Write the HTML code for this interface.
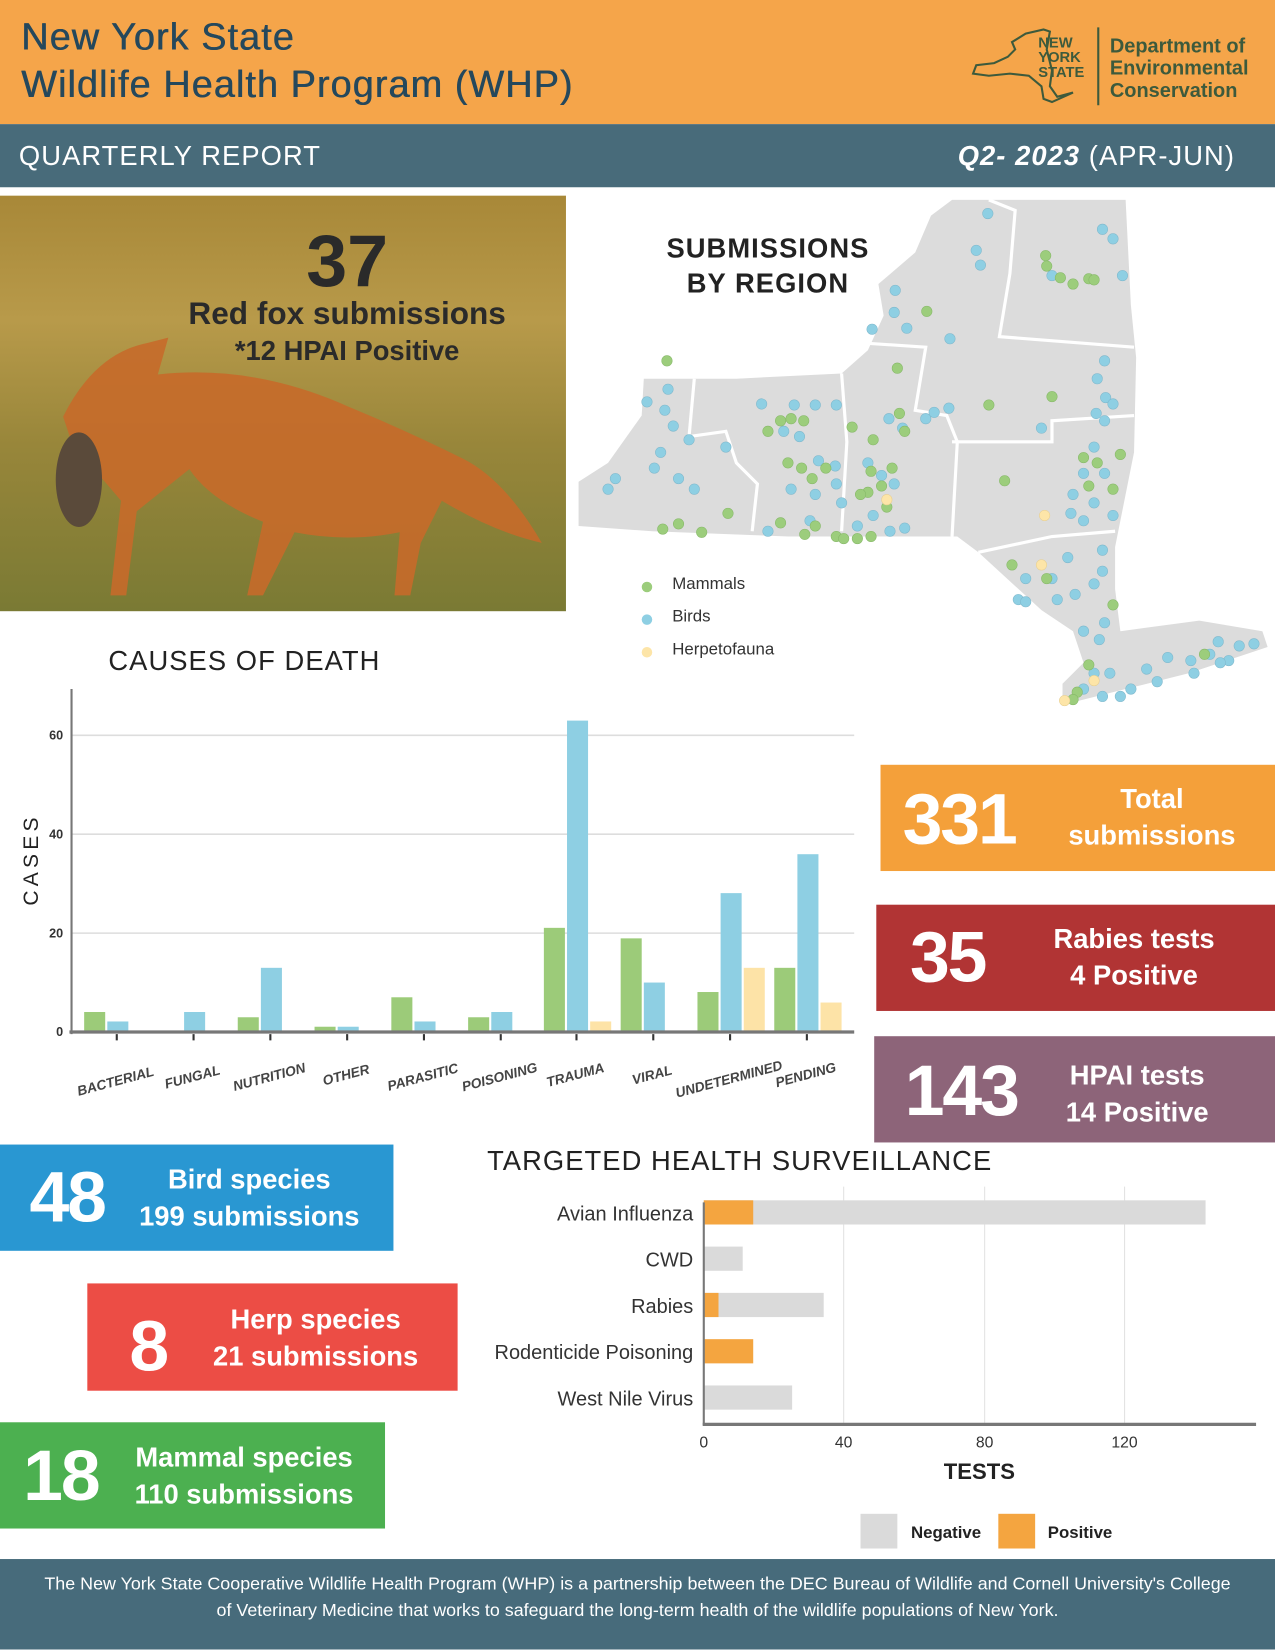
<!DOCTYPE html>
<html><head><meta charset="utf-8">
<style>
html,body{margin:0;padding:0;width:1275px;height:1650px;overflow:hidden;background:#fff}
#w{position:absolute;left:0;top:0;width:1212px;height:1568px;transform:scale(1.05198);transform-origin:0 0;font-family:"Liberation Sans",sans-serif}
.a{position:absolute}
.big{position:absolute;font-size:68px;line-height:70px;font-weight:bold;color:#fff;letter-spacing:-2px}
.lbl{position:absolute;text-align:center;font-size:26px;line-height:35px;font-weight:bold;color:#fff}
</style></head><body><div id="w">
<div class="a" style="left:0;top:0;width:1212px;height:118px;background:#f5a54a"></div>
<div class="a" style="left:20px;top:12px;font-size:36px;line-height:45px;color:#25485c;letter-spacing:1px;text-shadow:0.5px 0 0 #25485c">New York State<br>Wildlife Health Program (WHP)</div>
<svg class="a" style="left:920px;top:22px" width="280" height="80" viewBox="0 0 280 80">
<path d="M5 48 L8 40 L25 38 L38 32 L45 25 L42 18 L55 10 L72 6 L78 8 L75 25 L80 45 L78 60 L85 70 L100 66 L80 75 L72 72 L70 60 L58 50 L40 48 L20 50 Z" fill="none" stroke="#3d5a3c" stroke-width="2"/>
<text x="67" y="23" font-family="Liberation Sans" font-weight="bold" font-size="14" fill="#3d5a3c">NEW</text>
<text x="67" y="37" font-family="Liberation Sans" font-weight="bold" font-size="14" fill="#3d5a3c">YORK</text>
<text x="67" y="51" font-family="Liberation Sans" font-weight="bold" font-size="14" fill="#3d5a3c">STATE</text>
<line x1="124" y1="4" x2="124" y2="78" stroke="#3d5a3c" stroke-width="2"/>
<text x="135" y="28" font-family="Liberation Sans" font-weight="bold" font-size="19" fill="#3d5a3c">Department of</text>
<text x="135" y="49" font-family="Liberation Sans" font-weight="bold" font-size="19" fill="#3d5a3c">Environmental</text>
<text x="135" y="70" font-family="Liberation Sans" font-weight="bold" font-size="19" fill="#3d5a3c">Conservation</text>
</svg>
<div class="a" style="left:0;top:118px;width:1212px;height:60px;background:#486b7a"></div>
<div class="a" style="left:18px;top:133px;font-size:26px;color:#fff;letter-spacing:1px">QUARTERLY REPORT</div>
<div class="a" style="right:38px;top:133px;font-size:26px;color:#fff;letter-spacing:1px"><i style="font-weight:bold">Q2- 2023</i> (APR-JUN)</div>

<div class="a" style="left:0;top:186px;width:538px;height:395px;background:linear-gradient(180deg,#a88838 0%,#b89a4a 30%,#98863a 60%,#7a7a34 100%)"></div>
<svg class="a" style="left:0;top:186px" width="538" height="395">
<path d="M60 210 Q90 150 140 140 L160 135 L150 170 Q240 160 330 200 Q390 225 440 250 Q480 270 515 330 Q470 320 420 290 L400 330 L390 380 L375 380 L380 320 Q330 330 280 320 L250 380 L235 380 L250 310 Q200 290 180 260 L130 300 L120 380 L105 380 L115 290 Q90 260 70 240 Z" fill="#c66a2a" opacity="0.9"/>
<ellipse cx="75" cy="270" rx="22" ry="45" fill="#5a4a3a"/>
</svg>
<div class="a" style="left:180px;top:212px;width:300px;text-align:center;font-size:70px;line-height:72px;font-weight:bold;color:#2a2a2a">37</div>
<div class="a" style="left:150px;top:282px;width:360px;text-align:center;font-size:30px;font-weight:bold;color:#2a2a2a">Red fox submissions</div>
<div class="a" style="left:150px;top:318px;width:360px;text-align:center;font-size:26px;font-weight:bold;color:#2a2a2a">*12 HPAI Positive</div>

<svg class="a" style="left:0;top:0" width="1212" height="700">
<path d="M550 458 L578 440 L610 395 L612 360 L700 360 L800 355 L825 333 L840 300 L835 270 L870 240 L885 205 L905 190 L1070 190 L1075 290 L1080 340 L1078 430 L1070 470 L1060 520 L1060 560 L1065 600 L1140 590 L1200 600 L1205 615 L1130 640 L1070 655 L1010 670 L1010 650 L1030 630 L1020 600 L990 580 L930 525 L910 510 L850 510 L750 510 L620 505 L550 500 Z" fill="#dcdcdc"/>
<g stroke="#fff" stroke-width="3" fill="none">
<path d="M660 360 L655 415 L690 410 L700 440 L720 460 L715 505"/>
<path d="M800 355 L805 420 L800 505"/>
<path d="M805 325 L880 330 L870 390 L900 395 L910 420 L905 510"/>
<path d="M940 190 L965 200 L960 260 L950 320 L1078 330"/>
<path d="M905 420 L1000 420 L1000 400 L1078 395"/>
<path d="M930 525 L1000 510 L1060 505"/>
</g>
<g fill="#8ecfe3" stroke="#7fb8cc" stroke-width="0.5">
<circle cx="939" cy="203" r="5"/><circle cx="928" cy="238" r="5"/><circle cx="932" cy="252" r="5"/><circle cx="1048" cy="218" r="5"/><circle cx="1058" cy="227" r="5"/><circle cx="1000" cy="262" r="5"/><circle cx="1067" cy="262" r="5"/><circle cx="851" cy="276" r="5"/><circle cx="850" cy="297" r="5"/><circle cx="829" cy="313" r="5"/><circle cx="862" cy="312" r="5"/><circle cx="903" cy="322" r="5"/><circle cx="1050" cy="343" r="5"/><circle cx="1043" cy="360" r="5"/><circle cx="1051" cy="378" r="5"/><circle cx="1058" cy="384" r="5"/><circle cx="1042" cy="393" r="5"/><circle cx="1050" cy="400" r="5"/><circle cx="990" cy="407" r="5"/><circle cx="635" cy="370" r="5"/><circle cx="615" cy="382" r="5"/><circle cx="632" cy="390" r="5"/><circle cx="640" cy="405" r="5"/><circle cx="655" cy="418" r="5"/><circle cx="628" cy="430" r="5"/><circle cx="622" cy="445" r="5"/><circle cx="645" cy="455" r="5"/><circle cx="660" cy="465" r="5"/><circle cx="585" cy="455" r="5"/><circle cx="578" cy="465" r="5"/><circle cx="690" cy="425" r="5"/><circle cx="724" cy="384" r="5"/><circle cx="755" cy="385" r="5"/><circle cx="775" cy="385" r="5"/><circle cx="795" cy="385" r="5"/><circle cx="745" cy="410" r="5"/><circle cx="760" cy="415" r="5"/><circle cx="778" cy="438" r="5"/><circle cx="794" cy="443" r="5"/><circle cx="752" cy="465" r="5"/><circle cx="775" cy="470" r="5"/><circle cx="800" cy="478" r="5"/><circle cx="815" cy="500" r="5"/><circle cx="830" cy="490" r="5"/><circle cx="845" cy="398" r="5"/><circle cx="858" cy="407" r="5"/><circle cx="880" cy="398" r="5"/><circle cx="888" cy="392" r="5"/><circle cx="902" cy="388" r="5"/><circle cx="825" cy="440" r="5"/><circle cx="838" cy="452" r="5"/><circle cx="850" cy="460" r="5"/><circle cx="846" cy="505" r="5"/><circle cx="860" cy="502" r="5"/><circle cx="1040" cy="425" r="5"/><circle cx="1030" cy="450" r="5"/><circle cx="1050" cy="450" r="5"/><circle cx="1020" cy="470" r="5"/><circle cx="1040" cy="478" r="5"/><circle cx="1018" cy="488" r="5"/><circle cx="1030" cy="495" r="5"/><circle cx="1058" cy="490" r="5"/><circle cx="1048" cy="523" r="5"/><circle cx="1015" cy="530" r="5"/><circle cx="1000" cy="550" r="5"/><circle cx="1048" cy="543" r="5"/><circle cx="1040" cy="555" r="5"/><circle cx="1022" cy="565" r="5"/><circle cx="1005" cy="570" r="5"/><circle cx="975" cy="550" r="5"/><circle cx="968" cy="570" r="5"/><circle cx="975" cy="572" r="5"/><circle cx="1030" cy="600" r="5"/><circle cx="1050" cy="592" r="5"/><circle cx="1045" cy="608" r="5"/><circle cx="1040" cy="640" r="5"/><circle cx="1055" cy="640" r="5"/><circle cx="1030" cy="655" r="5"/><circle cx="1048" cy="662" r="5"/><circle cx="1065" cy="662" r="5"/><circle cx="1075" cy="655" r="5"/><circle cx="1090" cy="636" r="5"/><circle cx="1100" cy="648" r="5"/><circle cx="1110" cy="625" r="5"/><circle cx="1135" cy="640" r="5"/><circle cx="1132" cy="628" r="5"/><circle cx="1150" cy="622" r="5"/><circle cx="1158" cy="610" r="5"/><circle cx="1168" cy="628" r="5"/><circle cx="1178" cy="614" r="5"/><circle cx="1192" cy="612" r="5"/><circle cx="1160" cy="630" r="5"/><circle cx="730" cy="505" r="5"/><circle cx="795" cy="460" r="5"/><circle cx="770" cy="495" r="5"/>
</g>
<g fill="#9ccd7c" stroke="#86b868" stroke-width="0.5">
<circle cx="994" cy="243" r="5"/><circle cx="995" cy="253" r="5"/><circle cx="1008" cy="264" r="5"/><circle cx="1020" cy="270" r="5"/><circle cx="1035" cy="265" r="5"/><circle cx="1040" cy="266" r="5"/><circle cx="881" cy="296" r="5"/><circle cx="853" cy="350" r="5"/><circle cx="940" cy="385" r="5"/><circle cx="1000" cy="377" r="5"/><circle cx="634" cy="343" r="5"/><circle cx="742" cy="400" r="5"/><circle cx="730" cy="410" r="5"/><circle cx="752" cy="398" r="5"/><circle cx="764" cy="400" r="5"/><circle cx="762" cy="445" r="5"/><circle cx="772" cy="455" r="5"/><circle cx="785" cy="445" r="5"/><circle cx="749" cy="440" r="5"/><circle cx="810" cy="406" r="5"/><circle cx="830" cy="418" r="5"/><circle cx="855" cy="393" r="5"/><circle cx="860" cy="410" r="5"/><circle cx="828" cy="448" r="5"/><circle cx="838" cy="462" r="5"/><circle cx="825" cy="468" r="5"/><circle cx="848" cy="445" r="5"/><circle cx="843" cy="482" r="5"/><circle cx="818" cy="470" r="5"/><circle cx="775" cy="500" r="5"/><circle cx="742" cy="497" r="5"/><circle cx="765" cy="508" r="5"/><circle cx="795" cy="510" r="5"/><circle cx="802" cy="512" r="5"/><circle cx="815" cy="512" r="5"/><circle cx="828" cy="510" r="5"/><circle cx="692" cy="488" r="5"/><circle cx="667" cy="506" r="5"/><circle cx="645" cy="498" r="5"/><circle cx="630" cy="503" r="5"/><circle cx="1030" cy="435" r="5"/><circle cx="1043" cy="440" r="5"/><circle cx="1065" cy="432" r="5"/><circle cx="1058" cy="465" r="5"/><circle cx="1035" cy="462" r="5"/><circle cx="955" cy="457" r="5"/><circle cx="962" cy="537" r="5"/><circle cx="995" cy="550" r="5"/><circle cx="1058" cy="575" r="5"/><circle cx="1035" cy="632" r="5"/><circle cx="1024" cy="658" r="5"/><circle cx="1020" cy="665" r="5"/><circle cx="1145" cy="622" r="5"/>
</g>
<g fill="#fde5a8" stroke="#e8cf90" stroke-width="0.5">
<circle cx="993" cy="490" r="5"/><circle cx="990" cy="537" r="5"/><circle cx="1040" cy="647" r="5"/><circle cx="1012" cy="666" r="5"/><circle cx="843" cy="475" r="5"/>
</g>
<circle cx="615" cy="558" r="5" fill="#9ccd7c"/><circle cx="615" cy="589" r="5" fill="#8ecfe3"/><circle cx="615" cy="620" r="5" fill="#fde5a8"/>
<text x="639" y="560" font-family="Liberation Sans" font-size="16" fill="#333">Mammals</text>
<text x="639" y="591" font-family="Liberation Sans" font-size="16" fill="#333">Birds</text>
<text x="639" y="622" font-family="Liberation Sans" font-size="16" fill="#333">Herpetofauna</text>
<text x="730" y="245" text-anchor="middle" font-family="Liberation Sans" font-weight="bold" font-size="26" fill="#222" letter-spacing="1">SUBMISSIONS</text>
<text x="730" y="278" text-anchor="middle" font-family="Liberation Sans" font-weight="bold" font-size="26" fill="#222" letter-spacing="1">BY REGION</text>
</svg>

<div class="a" style="left:103px;top:613px;font-size:26px;color:#222;letter-spacing:1px">CAUSES OF DEATH</div>
<svg class="a" style="left:0;top:640px" width="830" height="420" font-family="Liberation Sans">
<g stroke="#ddd" stroke-width="1.5"><line x1="68" y1="59" x2="812" y2="59"/><line x1="68" y1="153" x2="812" y2="153"/><line x1="68" y1="247" x2="812" y2="247"/></g>
<g fill="#9ccb79">
<rect x="80" y="322" width="20" height="19"/><rect x="226" y="327" width="20" height="14"/><rect x="299" y="336" width="20" height="5"/><rect x="372" y="308" width="20" height="33"/><rect x="445" y="327" width="20" height="14"/><rect x="517" y="242" width="20" height="99"/><rect x="590" y="252" width="20" height="89"/><rect x="663" y="303" width="20" height="38"/><rect x="736" y="280" width="20" height="61"/>
</g>
<g fill="#8ecfe3">
<rect x="102" y="331" width="20" height="10"/><rect x="175" y="322" width="20" height="19"/><rect x="248" y="280" width="20" height="61"/><rect x="321" y="336" width="20" height="5"/><rect x="394" y="331" width="20" height="10"/><rect x="467" y="322" width="20" height="19"/><rect x="539" y="45" width="20" height="296"/><rect x="612" y="294" width="20" height="47"/><rect x="685" y="209" width="20" height="132"/><rect x="758" y="172" width="20" height="169"/>
</g>
<g fill="#fde3a7">
<rect x="561" y="331" width="20" height="10"/><rect x="707" y="280" width="20" height="61"/><rect x="780" y="313" width="20" height="28"/>
</g>
<line x1="68" y1="15" x2="68" y2="343" stroke="#777" stroke-width="2"/>
<line x1="66" y1="341" x2="812" y2="341" stroke="#777" stroke-width="3"/>
<g fill="#333" font-size="12" font-weight="bold" text-anchor="end">
<text x="60" y="63">60</text><text x="60" y="157">40</text><text x="60" y="251">20</text><text x="60" y="345">0</text>
</g>
<g stroke="#333" stroke-width="2">
<line x1="111" y1="343" x2="111" y2="349"/><line x1="184" y1="343" x2="184" y2="349"/><line x1="257" y1="343" x2="257" y2="349"/><line x1="330" y1="343" x2="330" y2="349"/><line x1="403" y1="343" x2="403" y2="349"/><line x1="476" y1="343" x2="476" y2="349"/><line x1="548" y1="343" x2="548" y2="349"/><line x1="621" y1="343" x2="621" y2="349"/><line x1="694" y1="343" x2="694" y2="349"/><line x1="767" y1="343" x2="767" y2="349"/>
</g>
<text transform="translate(36,177) rotate(-90)" text-anchor="middle" font-size="20" fill="#222" letter-spacing="4">CASES</text>
<g fill="#444" font-size="13" font-style="italic" font-weight="bold" text-anchor="middle">
<text transform="translate(111,392) rotate(-15)">BACTERIAL</text>
<text transform="translate(184,388) rotate(-15)">FUNGAL</text>
<text transform="translate(257,388) rotate(-15)">NUTRITION</text>
<text transform="translate(330,386) rotate(-15)">OTHER</text>
<text transform="translate(403,388) rotate(-15)">PARASITIC</text>
<text transform="translate(476,388) rotate(-15)">POISONING</text>
<text transform="translate(548,386) rotate(-15)">TRAUMA</text>
<text transform="translate(621,386) rotate(-15)">VIRAL</text>
<text transform="translate(694,390) rotate(-15)">UNDETERMINED</text>
<text transform="translate(767,386) rotate(-15)">PENDING</text>
</g>
</svg>

<div class="a" style="left:837px;top:727px;width:375px;height:101px;background:#f4a03a"></div>
<div class="big" style="left:858px;top:744px">331</div>
<div class="lbl" style="left:990px;top:742px;width:210px">Total<br>submissions</div>
<div class="a" style="left:833px;top:860px;width:379px;height:101px;background:#b13434"></div>
<div class="big" style="left:865px;top:875px">35</div>
<div class="lbl" style="left:970px;top:875px;width:216px">Rabies tests<br>4 Positive</div>
<div class="a" style="left:831px;top:985px;width:381px;height:101px;background:#8d6479"></div>
<div class="big" style="left:860px;top:1002px">143</div>
<div class="lbl" style="left:980px;top:1005px;width:202px">HPAI tests<br>14 Positive</div>

<div class="a" style="left:0;top:1088px;width:374px;height:101px;background:#2997d2"></div>
<div class="big" style="left:28px;top:1103px">48</div>
<div class="lbl" style="left:120px;top:1104px;width:234px">Bird species<br>199 submissions</div>
<div class="a" style="left:83px;top:1220px;width:352px;height:102px;background:#ec4d45"></div>
<div class="big" style="left:123px;top:1245px">8</div>
<div class="lbl" style="left:190px;top:1237px;width:220px">Herp species<br>21 submissions</div>
<div class="a" style="left:0;top:1352px;width:366px;height:101px;background:#4cb050"></div>
<div class="big" style="left:22px;top:1368px">18</div>
<div class="lbl" style="left:110px;top:1368px;width:244px">Mammal species<br>110 submissions</div>

<div class="a" style="left:463px;top:1088px;font-size:26px;color:#222;letter-spacing:1px">TARGETED HEALTH SURVEILLANCE</div>
<svg class="a" style="left:430px;top:1120px" width="782" height="360" font-family="Liberation Sans">
<g stroke="#e2e2e2" stroke-width="1"><line x1="372" y1="8" x2="372" y2="234"/><line x1="506" y1="8" x2="506" y2="234"/><line x1="639" y1="8" x2="639" y2="234"/></g>
<g fill="#dadada"><rect x="239" y="21" width="477" height="23"/><rect x="239" y="65" width="37" height="23"/><rect x="239" y="109" width="114" height="23"/><rect x="239" y="197" width="84" height="23"/></g>
<g fill="#f4a540"><rect x="239" y="21" width="47" height="23"/><rect x="239" y="109" width="14" height="23"/><rect x="239" y="153" width="47" height="23"/></g>
<line x1="239" y1="23" x2="239" y2="235" stroke="#777" stroke-width="2"/>
<line x1="238" y1="234" x2="764" y2="234" stroke="#777" stroke-width="3"/>
<g fill="#333" font-size="19" text-anchor="end">
<text x="229" y="40">Avian Influenza</text><text x="229" y="84">CWD</text><text x="229" y="128">Rabies</text><text x="229" y="172">Rodenticide Poisoning</text><text x="229" y="216">West Nile Virus</text>
</g>
<g fill="#333" font-size="15" text-anchor="middle"><text x="239" y="256">0</text><text x="372" y="256">40</text><text x="506" y="256">80</text><text x="639" y="256">120</text></g>
<text x="501" y="286" text-anchor="middle" font-size="21" font-weight="bold" fill="#222">TESTS</text>
<rect x="388" y="319" width="35" height="33" fill="#dadada"/><text x="436" y="342" font-size="16" font-weight="bold" fill="#222">Negative</text>
<rect x="519" y="319" width="35" height="33" fill="#f4a540"/><text x="566" y="342" font-size="16" font-weight="bold" fill="#222">Positive</text>
</svg>

<div class="a" style="left:0;top:1482px;width:1212px;height:86px;background:#476b7b"></div>
<div class="a" style="left:0;top:1493px;width:1212px;text-align:center;font-size:17px;line-height:25px;color:#fff">The New York State Cooperative Wildlife Health Program (WHP) is a partnership between the DEC Bureau of Wildlife and Cornell University's College<br>of Veterinary Medicine that works to safeguard the long-term health of the wildlife populations of New York.</div>
</div></body></html>
